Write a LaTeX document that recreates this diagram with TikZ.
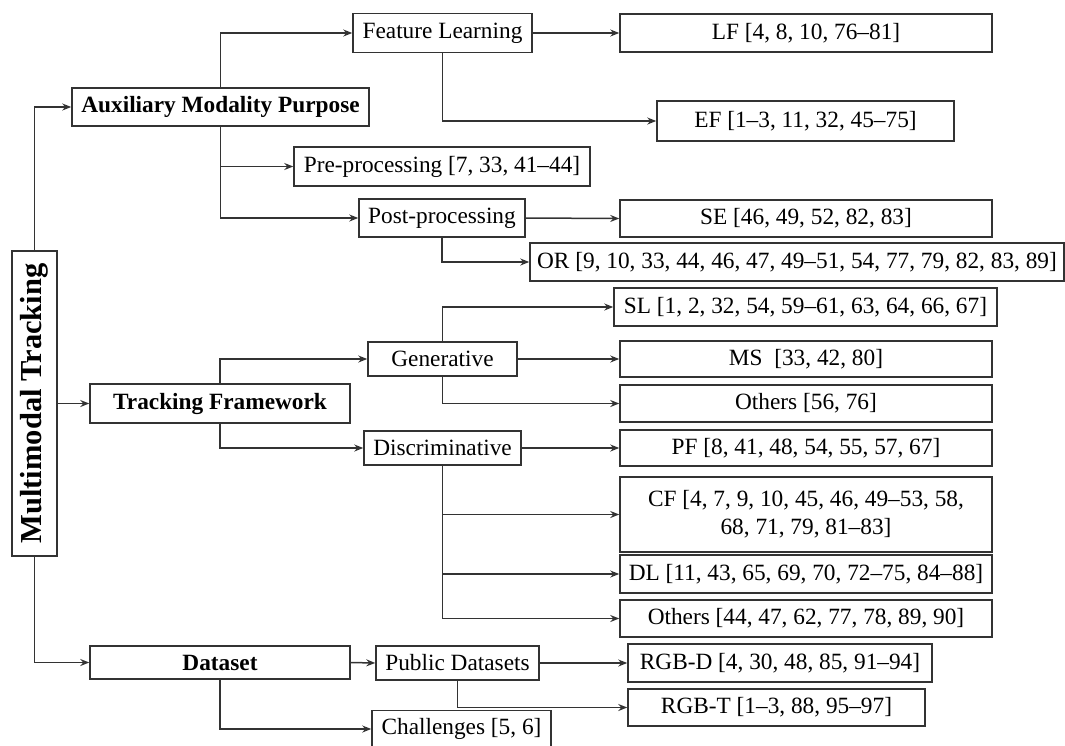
\documentclass[tikz,border=0pt]{standalone}
\usepackage{fontspec}
\usepackage{graphicx}
\setmainfont{Liberation Serif}
\usetikzlibrary{arrows.meta}
\tikzset{
  box/.style={draw=black!80, line width=1.5pt, fill=white, inner sep=0pt,
    font=\fontsize{23.3}{28}\selectfont, align=center},
  conn/.style={draw=black!80, line width=1.5pt,
    -{Stealth[length=9pt,width=7pt,inset=3pt]}},
}
\begin{document}
\begin{tikzpicture}[x=1pt,y=-1pt]
\useasboundingbox (0,0) rectangle (1065,745);

% root
\node[box, minimum width=45pt, minimum height=305pt] (root) at (34.5,403.5)
  {\rotatebox{90}{\fontsize{30.5}{36}\selectfont\bfseries Multimodal Tracking}};

% first level
\node[box, minimum width=297pt, minimum height=38pt] (amp) at (220.5,107) {\bfseries Auxiliary Modality Purpose};
\node[box, minimum width=260pt, minimum height=39pt] (tf) at (220,403.5) {\bfseries Tracking Framework};
\node[box, minimum width=260pt, minimum height=33pt] (ds) at (220,662.5) {\bfseries Dataset};

% auxiliary modality purpose
\node[box, minimum width=179pt, minimum height=39pt] (fl) at (442.5,33) {Feature Learning};
\node[box, minimum width=296pt, minimum height=39pt] (pre) at (442,166.5) {Pre-processing [7, 33, 41--44]};
\node[box, minimum width=166pt, minimum height=38pt] (post) at (442,218) {Post-processing};
\node[box, minimum width=372pt, minimum height=38pt] (lf) at (806,33) {LF [4, 8, 10, 76--81]};
\node[box, minimum width=297pt, minimum height=40pt] (ef) at (805.5,121) {EF [1--3, 11, 32, 45--75]};
\node[box, minimum width=372pt, minimum height=37pt] (se) at (806,218.5) {SE [46, 49, 52, 82, 83]};
\node[box, minimum width=534pt, minimum height=38pt] (or) at (797,262) {OR [9, 10, 33, 44, 46, 47, 49--51, 54, 77, 79, 82, 83, 89]};

% tracking framework
\node[box, minimum width=149pt, minimum height=34pt] (gen) at (442.5,359) {Generative};
\node[box, minimum width=157pt, minimum height=34pt] (dis) at (442.5,448) {Discriminative};
\node[box, minimum width=383pt, minimum height=38pt] (sl) at (805.5,307) {SL [1, 2, 32, 54, 59--61, 63, 64, 66, 67]};
\node[box, minimum width=372pt, minimum height=36pt] (ms) at (806,359) {MS\ \ [33, 42, 80]};
\node[box, minimum width=372pt, minimum height=37pt] (go) at (806,403.5) {Others [56, 76]};
\node[box, minimum width=372pt, minimum height=36pt] (pf) at (806,448) {PF [8, 41, 48, 54, 55, 57, 67]};
\node[box, minimum width=372pt, minimum height=75pt] (cf) at (806,514.5) {CF [4, 7, 9, 10, 45, 46, 49--53, 58,\\68, 71, 79, 81--83]};
\node[box, minimum width=372pt, minimum height=38pt] (dl) at (806,574) {DL [11, 43, 65, 69, 70, 72--75, 84--88]};
\node[box, minimum width=372pt, minimum height=37pt] (do) at (806,618.5) {Others [44, 47, 62, 77, 78, 89, 90]};

% dataset
\node[box, minimum width=163pt, minimum height=34pt] (pd) at (457.5,663) {Public Datasets};
\node[box, minimum width=179pt, minimum height=37pt] (ch) at (461.5,729) {Challenges [5, 6]};
\node[box, minimum width=304pt, minimum height=38pt] (rgbd) at (780,663) {RGB-D [4, 30, 48, 85, 91--94]};
\node[box, minimum width=297pt, minimum height=37pt] (rgbt) at (776.5,707.5) {RGB-T [1--3, 88, 95--97]};

% connectors
\draw[conn] (root.north) |- (amp.west);
\draw[conn] (root.east) -- (tf.west);
\draw[conn] (root.south) |- (ds.west);

\draw[conn] (amp.north) |- (fl.west);
\draw[conn] (amp.south) |- (pre.west);
\draw[conn] (amp.south) |- (post.west);
\draw[conn] (fl.east) -- (lf.west);
\draw[conn] (fl.south) |- (ef.west);
\draw[conn] (post.east) -- (se.west);
\draw[conn] (post.south) |- (or.west);

\draw[conn] (tf.north) |- (gen.west);
\draw[conn] (tf.south) |- (dis.west);
\draw[conn] (gen.north) |- (sl.west);
\draw[conn] (gen.east) -- (ms.west);
\draw[conn] (gen.south) |- (go.west);
\draw[conn] (dis.east) -- (pf.west);
\draw[conn] (dis.south) |- (cf.west);
\draw[conn] (dis.south) |- (dl.west);
\draw[conn] (dis.south) |- (do.west);

\draw[conn] (ds.east) -- (pd.west);
\draw[conn] (ds.south) |- (ch.west);
\draw[conn] (pd.east) -- (rgbd.west);
\draw[conn] (pd.south) |- (rgbt.west);
\end{tikzpicture}
\end{document}
